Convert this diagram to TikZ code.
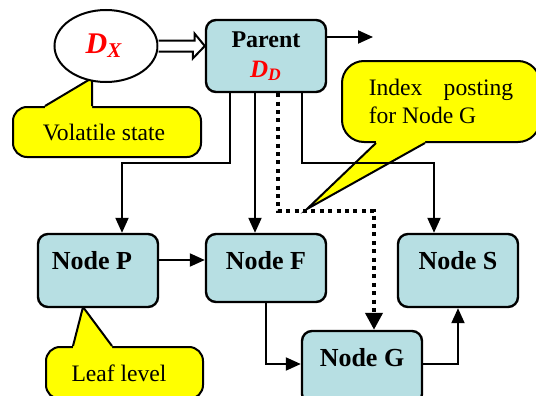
\documentclass[tikz,border=0pt]{standalone}
\usepackage{fontspec}
\setmainfont{Liberation Serif}
\usetikzlibrary{arrows.meta,shapes.geometric}

\definecolor{boxblue}{RGB}{183,223,227}
\definecolor{noteyellow}{RGB}{255,255,0}

\newcommand{\redvar}[2]{\textcolor{red}{\bfseries\itshape #1\textsubscript{#2}}}

\begin{document}
\begin{tikzpicture}[x=0.5pt, y=-0.5pt,
        box/.style={draw=black, fill=boxblue, line width=1.2pt, rounded corners=5pt,
            minimum width=60pt, minimum height=36.5pt, inner sep=0pt,
            text height=9pt, text depth=10pt, font=\fontsize{13}{15}\selectfont\bfseries},
        note/.style={draw=black, fill=noteyellow, line width=1pt, rounded corners=7pt,
            inner sep=0pt, font=\fontsize{11.8}{14}\selectfont},
        edge/.style={-{Triangle[length=7.5pt,width=6.5pt]}, line width=1pt},
        posting/.style={-{Triangle[length=8.5pt,width=8.5pt]}, line width=2pt,
            dash pattern=on 2pt off 2.2pt}
    ]
        \useasboundingbox (0,0) rectangle (536,396);

        % Notes
        \node[note, minimum width=94pt, minimum height=25pt] (volBox) at (107,132) {Volatile state\kern3pt};
        \node[note, minimum width=99pt, minimum height=40.5pt, rounded corners=11pt, align=left] (idxBox) at (441,101.5)
            {Index\hspace{0.9em}posting\\for Node G};
        \node[note, minimum width=78.5pt, minimum height=26pt] (leafBox) at (124.5,373) {Leaf level\kern5.5pt};

        \coordinate (volTip) at (92,78);
        \coordinate (idxTip) at (307,209);
        \coordinate (leafTip) at (83,307);

        % Pointers of the notes
        \fill[noteyellow] ([xshift=-31pt]volBox.north) -- (volTip) -- ([xshift=-7.5pt]volBox.north)
            -- ([xshift=-7.5pt,yshift=-1.5pt]volBox.north) -- ([xshift=-31pt,yshift=-1.5pt]volBox.north) -- cycle;
        \draw[line width=1pt] ([xshift=-31pt]volBox.north) -- (volTip) -- ([xshift=-7.5pt]volBox.north);
        \fill[noteyellow] ([xshift=-32.5pt]idxBox.south) -- (idxTip) -- ([xshift=-8pt]idxBox.south)
            -- ([xshift=-8pt,yshift=1.5pt]idxBox.south) -- ([xshift=-32.5pt,yshift=1.5pt]idxBox.south) -- cycle;
        \draw[line width=1pt] ([xshift=-32.5pt]idxBox.south) -- (idxTip) -- ([xshift=-8pt]idxBox.south);
        \fill[noteyellow] ([xshift=-25.75pt]leafBox.north) -- (leafTip) -- ([xshift=-6.25pt]leafBox.north)
            -- ([xshift=-6.25pt,yshift=-1.5pt]leafBox.north) -- ([xshift=-25.75pt,yshift=-1.5pt]leafBox.north) -- cycle;
        \draw[line width=1pt] ([xshift=-25.75pt]leafBox.north) -- (leafTip) -- ([xshift=-6.25pt]leafBox.north);

        % Nodes
        \node[ellipse, draw=black, fill=white, line width=1pt, minimum width=51.5pt, minimum height=36pt,
            font=\fontsize{15}{17}\selectfont] (dx) at (106,46) {\redvar{D}{X}\kern2pt};
        \node[box, minimum height=36pt, text height=, text depth=, align=center,
            font=\fontsize{12}{15}\selectfont\bfseries] (parent) at (266,56)
            {Parent\\[0pt]{\fontsize{12.5}{14}\selectfont\redvar{D}{D}}};
        \node[box] (nodeP) at (98,270.5) {Node P\kern6pt};
        \node[box, minimum height=34pt, text depth=8pt] (nodeF) at (266,268) {Node F};
        \node[box] (nodeS) at (458,270.5) {Node S};
        \node[box] (nodeG) at (362,367.5) {Node G};

        \coordinate (out) at (373,37);
        \coordinate (jP) at (122,163);
        \coordinate (jS) at (434,163);
        \coordinate (jG) at (374,211);

        % Edges
        \draw[line width=1pt, fill=white] ([yshift=2.75pt]dx.east) -- ++(36,0) -- ++(0,-7)
            -- (dx.east -| parent.west) -- ++(-12,12.5) -- ++(0,-7) -- ([yshift=-2.75pt]dx.east);
        \draw[edge] (parent.east |- out) -- (out);
        \draw[edge] ([xshift=-18pt]parent.south) |- (jP) -- (jP |- nodeP.north);
        \draw[edge] ([xshift=-5.5pt]parent.south) -- ([xshift=-5.5pt]parent.south |- nodeF.north);
        \draw[edge] ([xshift=18pt]parent.south) |- (jS) -- (jS |- nodeS.north);
        \draw[posting] ([xshift=6pt]parent.south) |- (jG) -- (jG |- nodeG.north);
        \draw[edge] ([yshift=5.25pt]nodeP.east) -- ([yshift=5.25pt]nodeP.east -| nodeF.west);
        \draw[edge] (nodeF.south) |- ([yshift=1.75pt]nodeG.west);
        \draw[edge] ([yshift=1.75pt]nodeG.east) -| (nodeS.south);

\end{tikzpicture}
\end{document}
